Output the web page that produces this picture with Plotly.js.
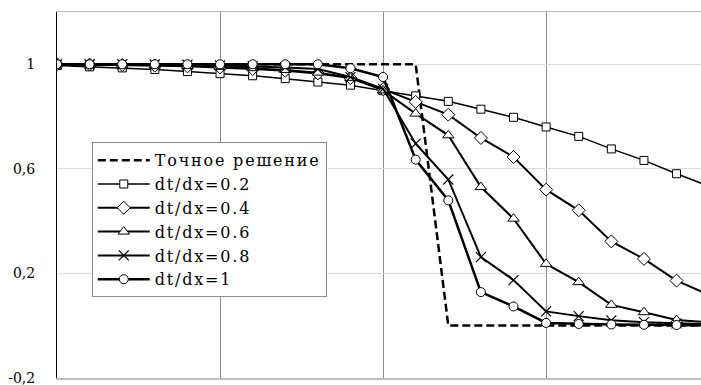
<!DOCTYPE html>
<html>
<head>
<meta charset="utf-8">
<script src="https://cdn.plot.ly/plotly-3.0.1.min.js"></script>
<style>
html,body{margin:0;padding:0;background:#fff;}
#chart{width:701px;height:385px;}
.legendtext{letter-spacing:1.8px;}
</style>
</head>
<body>
<div id="chart"></div>
<script>
// Node index along the horizontal axis
const xIdx = [0,1,2,3,4,5,6,7,8,9,10,11,12,13,14,15,16,17,18,19,20];

const seriesNames = ["Точное решение","dt/dx=0.2","dt/dx=0.4","dt/dx=0.6","dt/dx=0.8","dt/dx=1"];

const exact = [1,1,1,1,1,1,1,1,1,1,1,1,0,0,0,0,0,0,0,0,0];
const s02 = [0.995,0.99,0.986,0.98,0.972,0.964,0.956,0.945,0.932,0.92,0.899,0.879,0.858,0.828,0.797,0.760,0.724,0.676,0.632,0.581,0.533];
const s04 = [1,0.999,0.997,0.995,0.992,0.988,0.982,0.975,0.965,0.947,0.905,0.856,0.807,0.718,0.645,0.520,0.441,0.322,0.255,0.172,0.117];
const s06 = [1,0.999,0.998,0.996,0.994,0.99,0.985,0.978,0.968,0.948,0.9,0.811,0.728,0.530,0.409,0.236,0.166,0.079,0.051,0.021,0.012];
const s08 = [1,1,1,0.999,0.998,0.996,0.993,0.988,0.982,0.951,0.906,0.696,0.559,0.262,0.174,0.054,0.036,0.02,0.013,0.008,0.005];
const s10 = [1,1,1,1,1,1,1,1,1,0.985,0.951,0.635,0.479,0.128,0.073,0.01,0.006,0.004,0.003,0.002,0.001];

const yTickVals = [-0.2,0.2,0.6,1];
const yTickText = ["-0,2","0,2","0,6","1"];

const mk = (sym, size) => ({symbol: sym, size: size, color: "#ffffff", line: {color: "#000000", width: 1}});

const traces = [
  {x: xIdx, y: exact, name: seriesNames[0], mode: "lines", line: {color: "#000", width: 2.5, dash: "8px,4px"}},
  {x: xIdx, y: s02, name: seriesNames[1], mode: "lines+markers", line: {color: "#000", width: 1.5}, marker: mk("square", 8)},
  {x: xIdx, y: s04, name: seriesNames[2], mode: "lines+markers", line: {color: "#000", width: 2}, marker: mk("diamond", 10)},
  {x: xIdx, y: s06, name: seriesNames[3], mode: "lines+markers", line: {color: "#000", width: 2}, marker: mk("triangle-up", 10)},
  {x: xIdx, y: s08, name: seriesNames[4], mode: "lines+markers", line: {color: "#000", width: 2}, marker: {symbol: "x-thin", size: 10, color: "#000", line: {color: "#000", width: 1.2}}},
  {x: xIdx, y: s10, name: seriesNames[5], mode: "lines+markers", line: {color: "#000", width: 2.5}, marker: mk("circle", 9)}
];

const layout = {
  width: 701, height: 385,
  margin: {l: 57, r: 0, t: 12, b: 7, pad: 0},
  paper_bgcolor: "#fff", plot_bgcolor: "#fff",
  showlegend: true,
  font: {family: "DejaVu Serif, Liberation Serif, serif", color: "#000"},
  xaxis: {
    range: [0, 19.75], dtick: 5, tick0: 0,
    showticklabels: false, ticks: "",
    showgrid: true, gridcolor: "#8c8c8c", gridwidth: 1,
    zeroline: false,
    showline: true, linecolor: "#bdbdbd", linewidth: 1.5, mirror: true
  },
  yaxis: {
    range: [-0.2008, 1.2],
    tickvals: yTickVals, ticktext: yTickText,
    ticks: "", ticklabelstandoff: 18, ticklabeloverflow: "allow",
    tickfont: {family: "DejaVu Serif, Liberation Serif, serif", size: 14, color: "#000"},
    showgrid: true, gridcolor: "#d9d9d9", gridwidth: 1.3,
    zeroline: false,
    showline: true, linecolor: "#000", linewidth: 1
  },
  legend: {
    x: 0.054, y: 0.644, xanchor: "left", yanchor: "top",
    bgcolor: "#fff", bordercolor: "#8c8c8c", borderwidth: 1,
    font: {family: "DejaVu Serif, Liberation Serif, serif", size: 16, color: "#000"},
    itemwidth: 52, tracegroupgap: 0
  }
};

Plotly.newPlot("chart", traces, layout, {displayModeBar: false, staticPlot: true});
</script>
</body>
</html>
